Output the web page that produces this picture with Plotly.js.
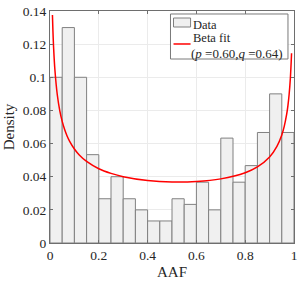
<!DOCTYPE html>
<html><head><meta charset="utf-8">
<script src="https://cdn.plot.ly/plotly-3.0.1.min.js"></script>
<style>html,body{margin:0;padding:0;background:#fff}#chart{width:305px;height:282px}</style>
</head><body><div id="chart"></div>
<script>
var binCenters = [0.025,0.075,0.125,0.175,0.225,0.275,0.325,0.375,0.425,0.475,0.525,0.575,0.625,0.675,0.725,0.775,0.825,0.875,0.925,0.975];
var density = [0.1,0.13,0.1,0.0533,0.0267,0.04,0.0267,0.02,0.0133,0.0133,0.0267,0.0233,0.0367,0.02,0.0633,0.0367,0.0467,0.0667,0.09,0.0667];
var fitX = [0.01,0.012,0.015,0.02,0.03,0.04,0.05,0.06,0.07,0.08,0.1,0.12,0.15,0.2,0.25,0.3,0.4,0.5,0.6,0.7,0.8,0.85,0.9,0.93,0.95,0.96,0.97,0.975,0.98,0.985,0.99];
var fitY = [0.1376,0.1280,0.1172,0.1047,0.0893,0.0799,0.0734,0.0685,0.0646,0.0615,0.0567,0.0531,0.0492,0.0448,0.0420,0.0400,0.0377,0.0368,0.0371,0.0387,0.0424,0.0459,0.0519,0.0583,0.0652,0.0704,0.0777,0.0828,0.0896,0.0992,0.1145];
var xTicks = [0,0.2,0.4,0.6,0.8,1];
var xTickText = ['0','0.2','0.4','0.6','0.8','1'];
var yTicks = [0,0.02,0.04,0.06,0.08,0.1,0.12,0.14];
var yTickText = ['0','0.02','0.04','0.06','0.08','0.1','0.12','0.14'];
var legendLabels = ['Data', 'Beta fit', '(<i>p</i> =0.60,<i>q</i> =0.64)'];

var font = {family:'"Liberation Serif", "Times New Roman", serif', color:'#262626'};
function f(s){ return Object.assign({size:s}, font); }
var data = [
  {type:'bar', x:binCenters, y:density, width:0.05, name:'Data', showlegend:false,
   marker:{color:'#f0f0f0', line:{color:'#808080', width:1}}},
  {type:'scatter', mode:'lines', x:fitX, y:fitY, name:'Beta fit', showlegend:false,
   line:{color:'#ff0000', width:1.5, shape:'spline'}}
];
// custom legend (paper coordinates)
var shapes = [
  {type:'rect', xref:'paper', yref:'paper', x0:0.4938, x1:0.9753, y0:0.7931, y1:0.9871,
   fillcolor:'#ffffff', line:{color:'#7a7a7a', width:1}, layer:'above'},
  {type:'rect', xref:'paper', yref:'paper', x0:0.5062, x1:0.5761, y0:0.931, y1:0.9698,
   fillcolor:'#f0f0f0', line:{color:'#808080', width:1}, layer:'above'},
  {type:'line', xref:'paper', yref:'paper', x0:0.5062, x1:0.5761, y0:0.8578, y1:0.8578,
   line:{color:'#ff0000', width:1.5}, layer:'above'}
];
var annotations = [
  {xref:'paper', yref:'paper', x:0.58, y:0.9397, text:legendLabels[0], showarrow:false, xanchor:'left', yanchor:'middle', borderpad:0, font:f(12.5)},
  {xref:'paper', yref:'paper', x:0.584, y:0.8815, text:legendLabels[1], showarrow:false, xanchor:'left', yanchor:'middle', borderpad:0, font:f(12.5)},
  {xref:'paper', yref:'paper', x:0.574, y:0.8168, text:legendLabels[2], showarrow:false, xanchor:'left', yanchor:'middle', borderpad:0, font:f(13)}
];
var layout = {
  width:305, height:282,
  margin:{l:50, r:11, t:11, b:39},
  paper_bgcolor:'#fff', plot_bgcolor:'#fff',
  font:f(13),
  showlegend:false,
  shapes:shapes, annotations:annotations,
  xaxis:{range:[0,1], tickvals:xTicks, ticktext:xTickText, showgrid:true, gridcolor:'#ebebeb',
    zeroline:false, showline:true, mirror:'ticks', linecolor:'#6e6e6e', linewidth:1,
    ticks:'inside', ticklen:3, tickcolor:'#6e6e6e', tickfont:f(13.5),
    title:{text:'AAF', font:f(15), standoff:4}},
  yaxis:{range:[0,0.14], tickvals:yTicks, ticktext:yTickText, showgrid:true, gridcolor:'#ebebeb',
    zeroline:false, showline:true, mirror:'ticks', linecolor:'#6e6e6e', linewidth:1,
    ticks:'inside', ticklen:3, tickcolor:'#6e6e6e', tickfont:f(13.5),
    title:{text:'Density', font:f(15), standoff:4}},
  bargap:0
};
Plotly.newPlot('chart', data, layout, {displayModeBar:false, staticPlot:true});
</script></body></html>
